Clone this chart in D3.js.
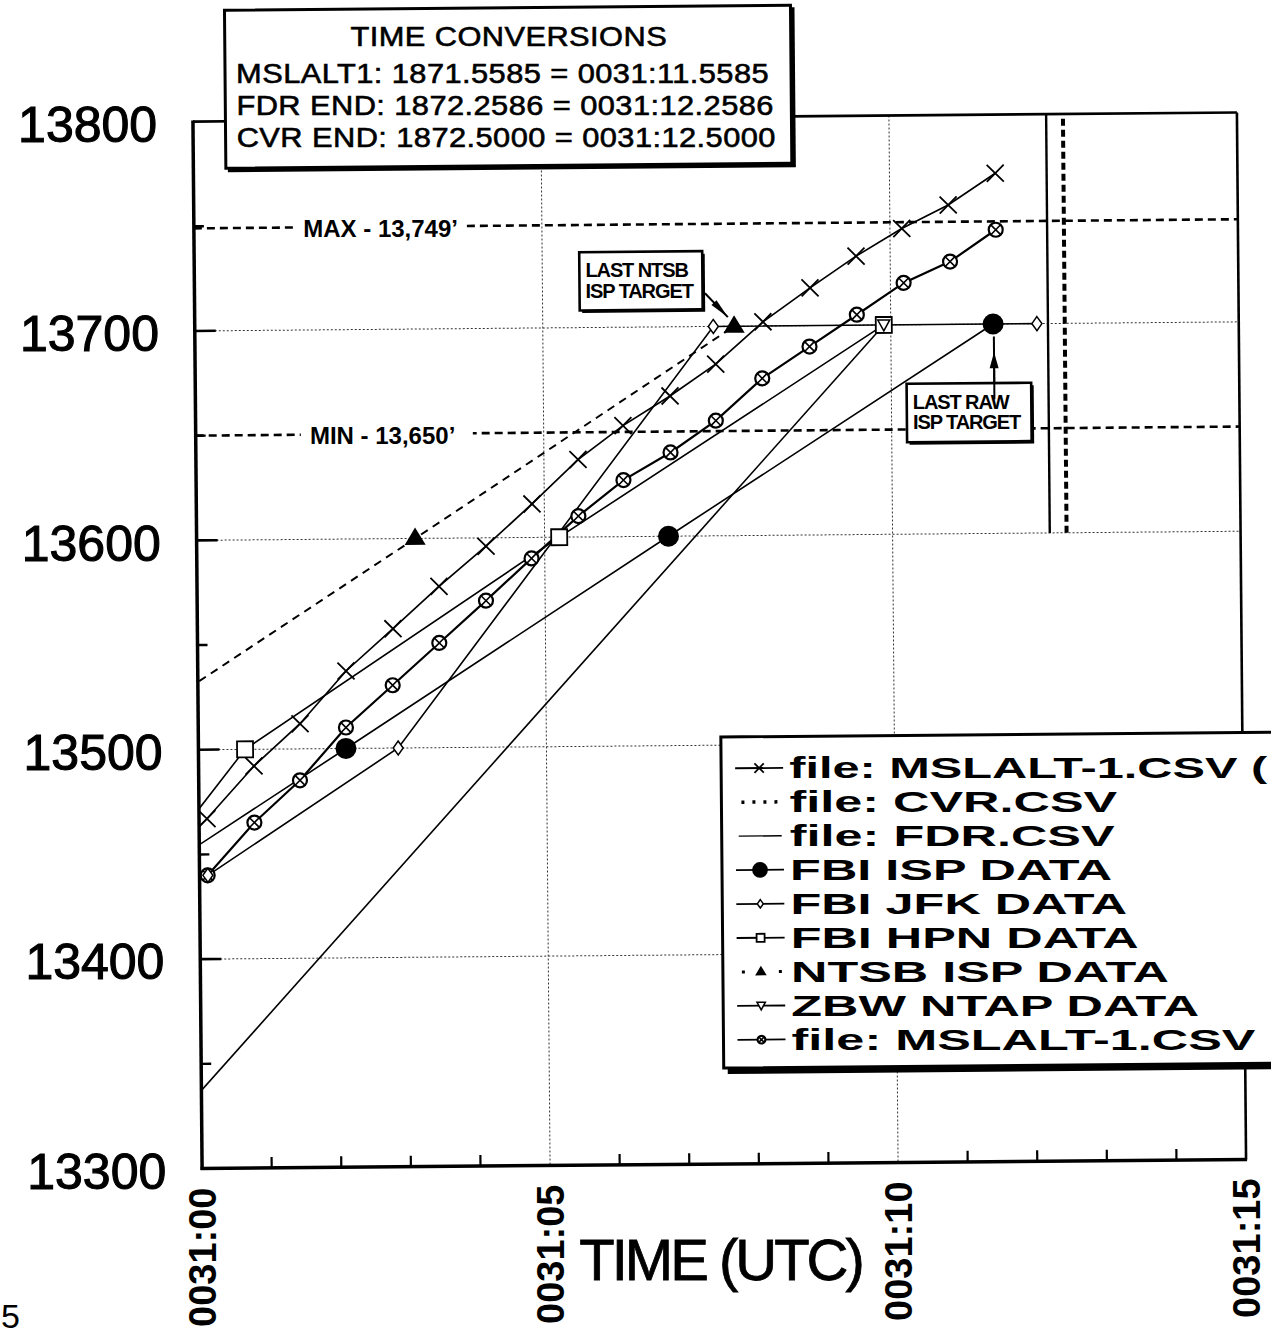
<!DOCTYPE html>
<html><head><meta charset="utf-8">
<script src="https://cdn.jsdelivr.net/npm/d3@7"></script>
<style>
html,body{margin:0;padding:0;background:#fff;}
svg{display:block;}
text{font-family:"Liberation Sans", Arial, Helvetica, sans-serif;fill:#000;}
</style></head><body>
<svg id="chart" width="1271" height="1338"></svg>
<script>
// ---------- axis data ----------
const timeTickValues = [0, 5, 10, 15];
const timeTickLabels = ["0031:00", "0031:05", "0031:10", "0031:15"];
const timeMinorTicks = [1, 2, 3, 4, 6, 7, 8, 9, 11, 12, 13, 14];
const altTickValues = [13300, 13400, 13500, 13600, 13700, 13800];
const altTickLabels = ["13300", "13400", "13500", "13600", "13700", "13800"];
const altGridValues = [13400, 13500, 13600, 13700];
const altMinorTicks = [13350, 13450, 13550, 13650, 13750];
const xAxisTitle = "TIME (UTC)";

// ---------- series data (seconds after 0031:00, feet MSL) ----------
const mslaltXTime = [-0.56, 0.114, 0.796, 1.463, 2.13, 2.81, 3.477, 4.157, 4.823, 5.49, 6.14, 6.82, 7.48, 8.164, 8.845, 9.51, 10.17, 10.84, 11.52];
const mslaltXAlt  = [13446, 13467, 13492, 13512, 13537, 13557, 13577, 13596, 13616, 13637, 13653, 13667, 13682, 13702, 13718, 13733, 13746, 13757, 13772];

const mslaltOTime = [0.117, 0.795, 1.455, 2.122, 2.799, 3.474, 4.15, 4.81, 5.488, 6.14, 6.82, 7.475, 8.147, 8.83, 9.514, 10.19, 10.86, 11.52];
const mslaltOAlt  = [13440, 13465, 13485, 13510, 13530, 13550, 13570, 13590, 13610, 13627, 13640, 13655, 13675, 13690, 13705, 13720, 13730, 13745];

const cvrTime = [12.5, 12.5];
const cvrAlt  = [13600, 13800];
const fdrTime = [12.2586, 12.2586];
const fdrAlt  = [13600, 13800];

const fbiIspTime = [-2.55, 2.12, 6.78, 11.47];
const fbiIspAlt  = [13400, 13500, 13600, 13700];

const fbiJfkTime = [0.12, 2.87, 7.45, 12.1];
const fbiJfkAlt  = [13440, 13500, 13700, 13700];

const fbiHpnTime = [-1.7, 0.67, 5.21, 9.9];
const fbiHpnAlt  = [13400, 13500, 13600, 13700];

const ntsbIspTime = [-1.5, 3.14, 7.75];
const ntsbIspAlt  = [13500, 13600, 13700];

const zbwTime = [-2.0, 9.9];
const zbwAlt  = [13264, 13700];

// ---------- reference lines & texts ----------
const limitValues = [13749, 13650];
const limitLabels = ["MAX - 13,749\u2019", "MIN - 13,650\u2019"];
const conversionTitle = "TIME CONVERSIONS";
const conversionLines = ["MSLALT1: 1871.5585 = 0031:11.5585", "FDR END: 1872.2586 = 0031:12.2586", "CVR END: 1872.5000 = 0031:12.5000"];
const ntsbNote = ["LAST NTSB", "ISP TARGET"];
const rawNote = ["LAST RAW", "ISP TARGET"];
const legendLabels = ["file: MSLALT-1.CSV (", "file: CVR.CSV", "file: FDR.CSV", "FBI ISP DATA", "FBI JFK DATA", "FBI HPN DATA", "NTSB ISP DATA", "ZBW NTAP DATA", "file: MSLALT-1.CSV"];

// ---------- setup ----------
const TILT = -0.5; // scanned page is slightly rotated
const svg = d3.select("#chart");
const root = svg.append("g").attr("transform", `rotate(${TILT},719.5,640.5)`);
const x = d3.scaleLinear().domain([0, 15]).range([197.5, 1241.5]);
const y = d3.scaleLinear().domain([13300, 13800]).range([1164, 117]);
const X0 = x(0), X1 = x(15), YB = y(13300), YT = y(13800);
const untilt = `rotate(${-TILT})`;

svg.append("defs").append("clipPath").attr("id", "plotclip")
  .append("rect").attr("x", X0).attr("y", YT).attr("width", X1 - X0).attr("height", YB - YT);

// gridlines
const grid = root.append("g").attr("stroke", "#333").attr("stroke-width", 1).attr("stroke-dasharray", "2,2");
grid.selectAll("line.h").data(altGridValues).join("line")
  .attr("x1", X0).attr("x2", X1).attr("y1", d => y(d)).attr("y2", d => y(d));
grid.selectAll("line.v").data([timeTickValues[1], timeTickValues[2]]).join("line")
  .attr("y1", YT).attr("y2", YB).attr("x1", d => x(d)).attr("x2", d => x(d));

// MAX / MIN lines
const lim = root.append("g");
limitValues.forEach((v, i) => {
  lim.append("line").attr("x1", X0).attr("x2", X1).attr("y1", y(v)).attr("y2", y(v))
    .attr("stroke", "#000").attr("stroke-width", 2.6).attr("stroke-dasharray", "8,5");
  const lx = i === 0 ? x(1.57) : x(1.64);
  lim.append("rect").attr("x", lx - 9).attr("y", y(v) - 14).attr("width", 172).attr("height", 28).attr("fill", "#fff");
  lim.append("text").attr("transform", `translate(${lx},${y(v) + 9.5}) ${untilt}`).attr("font-size", 24).attr("font-weight", "bold")
    .text(limitLabels[i]);
});

// series definitions
function pts(t, a) { return t.map((d, i) => ({ t: d, a: a[i] })); }
const series = [
  { data: pts(zbwTime, zbwAlt), marker: "triDown", w: 1.6 },
  { data: pts(fbiHpnTime, fbiHpnAlt), marker: "square", w: 1.6 },
  { data: pts(fbiJfkTime, fbiJfkAlt), marker: "diamond", w: 1.6 },
  { data: pts(fbiIspTime, fbiIspAlt), marker: "dot", w: 1.6 },
  { data: pts(ntsbIspTime, ntsbIspAlt), marker: "triUp", w: 2, dash: "8,6" },
  { data: pts(mslaltXTime, mslaltXAlt), marker: "cross", w: 1.7 },
  { data: pts(mslaltOTime, mslaltOAlt), marker: "otimes", w: 2.2 },
  { data: pts(fdrTime, fdrAlt), marker: null, w: 2.4 },
  { data: pts(cvrTime, cvrAlt), marker: null, w: 4, dash: "7,4" }
];
const line = d3.line().x(d => x(d.t)).y(d => y(d.a));
const plot = root.append("g").attr("clip-path", "url(#plotclip)");
series.forEach(s => {
  plot.append("path").attr("d", line(s.data)).attr("fill", "none").attr("stroke", "#000")
    .attr("stroke-width", s.w).attr("stroke-dasharray", s.dash || null);
});

function drawMarker(g, type, cx, cy, s) {
  const m = g.append("g").attr("transform", `translate(${cx},${cy}) scale(${s})`);
  const st = (sel, w) => sel.attr("stroke", "#000").attr("stroke-width", w).attr("vector-effect", "non-scaling-stroke");
  if (type === "cross") st(m.append("path").attr("d", "M-8.5,-8.5L8.5,8.5M-8.5,8.5L8.5,-8.5").attr("fill", "none"), 1.8);
  if (type === "otimes") {
    st(m.append("circle").attr("r", 7).attr("fill", "#fff"), 2.2);
    st(m.append("path").attr("d", "M-4.9,-4.9L4.9,4.9M-4.9,4.9L4.9,-4.9"), 1.6);
  }
  if (type === "dot") m.append("circle").attr("r", 10.5).attr("fill", "#000");
  if (type === "diamond") st(m.append("path").attr("d", "M0,-7L5,0L0,7L-5,0Z").attr("fill", "#fff"), 1.5);
  if (type === "square") st(m.append("rect").attr("x", -8).attr("y", -8).attr("width", 16).attr("height", 16).attr("fill", "#fff"), 1.8);
  if (type === "triUp") m.append("path").attr("d", "M0,-11L10.5,6.5L-10.5,6.5Z").attr("fill", "#000");
  if (type === "triDown") st(m.append("path").attr("d", "M-6,-5L6,-5L0,6Z").attr("fill", "#fff"), 1.5);
}
const markerOrder = [6, 5, 2, 1, 0, 3, 4];
markerOrder.forEach(i => {
  const s = series[i];
  s.data.forEach(d => drawMarker(plot, s.marker, x(d.t), y(d.a), 1));
});

// frame and ticks
const frame = root.append("g").attr("stroke", "#000").attr("fill", "none");
frame.append("line").attr("x1", X0).attr("x2", X0).attr("y1", YT - 1).attr("y2", YB + 1.5).attr("stroke-width", 3.5);
frame.append("line").attr("x1", X0 - 1.5).attr("x2", X1 + 1).attr("y1", YB).attr("y2", YB).attr("stroke-width", 3.5);
frame.append("line").attr("x1", X1).attr("x2", X1).attr("y1", YT).attr("y2", YB).attr("stroke-width", 2.6);
frame.append("line").attr("x1", X0).attr("x2", X1).attr("y1", YT).attr("y2", YT).attr("stroke-width", 2.6);
frame.selectAll("line.ymaj").data(altGridValues).join("line")
  .attr("x1", X0).attr("x2", X0 + 21).attr("y1", d => y(d)).attr("y2", d => y(d)).attr("stroke-width", 2.6);
frame.selectAll("line.ymin").data(altMinorTicks).join("line")
  .attr("x1", X0).attr("x2", X0 + 10).attr("y1", d => y(d)).attr("y2", d => y(d)).attr("stroke-width", 2.4);
frame.selectAll("line.xmin").data(timeMinorTicks).join("line")
  .attr("x1", d => x(d)).attr("x2", d => x(d)).attr("y1", YB).attr("y2", YB - 11).attr("stroke-width", 2.2);

// axis labels
const yl = root.append("g");
yl.selectAll("text").data(altTickValues).join("text")
  .attr("transform", d => `translate(${X0 - 36},${y(d) + 20}) ${untilt}`).attr("text-anchor", "end")
  .attr("font-size", 50).attr("stroke", "#000").attr("stroke-width", 1.1)
  .text((d, i) => altTickLabels[i]);
const xl = root.append("g");
xl.selectAll("text").data(timeTickValues).join("text")
  .attr("transform", d => `translate(${x(d)},${YB + 19}) rotate(${-90 - TILT})`)
  .attr("text-anchor", "end").attr("dy", "0.36em")
  .attr("font-size", 38).attr("font-weight", "bold")
  .text((d, i) => timeTickLabels[i]);
root.append("text").attr("transform", `translate(715,1280) ${untilt}`).attr("text-anchor", "middle")
  .attr("font-size", 58).attr("letter-spacing", -3).attr("stroke", "#000").attr("stroke-width", 0.8).text(xAxisTitle);
svg.append("text").attr("x", 1).attr("y", 1328).attr("font-size", 34).text("5");

// time conversions box
const tb = root.append("g");
tb.append("rect").attr("x", 232).attr("y", 8).attr("width", 568).attr("height", 160).attr("fill", "#000");
tb.append("rect").attr("x", 230).attr("y", 6).attr("width", 566).attr("height", 158)
  .attr("fill", "#fff").attr("stroke", "#000").attr("stroke-width", 3);
tb.append("text").attr("transform", `translate(514,44) ${untilt} scale(1.1,1)`).attr("text-anchor", "middle").attr("font-size", 28)
  .attr("letter-spacing", 0.4).attr("stroke", "#000").attr("stroke-width", 0.6).text(conversionTitle);
tb.selectAll("text.l").data(conversionLines).join("text")
  .attr("transform", (d, i) => `translate(241,${79 + i * 32}) ${untilt} scale(1.1,1)`).attr("font-size", 28)
  .attr("letter-spacing", 0.4).attr("stroke", "#000").attr("stroke-width", 0.6).text(d => d);

// annotation boxes
function noteBox(t0, t1, a0, a1, lines) {
  const g = root.append("g");
  const bx = x(t0), by = y(a0), bw = x(t1) - x(t0), bh = y(a1) - y(a0);
  g.append("rect").attr("x", bx + 2.5).attr("y", by + 2.5).attr("width", bw).attr("height", bh).attr("fill", "#000");
  g.append("rect").attr("x", bx).attr("y", by).attr("width", bw).attr("height", bh)
    .attr("fill", "#fff").attr("stroke", "#000").attr("stroke-width", 2.6);
  lines.forEach((s, i) => g.append("text").attr("transform", `translate(${bx + 6},${by + 25 + i * 20.5}) ${untilt}`)
    .attr("font-size", 20).attr("font-weight", "bold").attr("letter-spacing", -1.1).text(s));
  return g;
}
noteBox(5.533, 7.30, 13736, 13708.2, ntsbNote);
noteBox(10.22, 12.01, 13671.8, 13643.9, rawNote);

function arrow(xa, ya, xb, yb, len, wid) {
  const ang = Math.atan2(yb - ya, xb - xa);
  root.append("line").attr("x1", xa).attr("y1", ya).attr("x2", xb).attr("y2", yb).attr("stroke", "#000").attr("stroke-width", 2);
  const bx = xb - len * Math.cos(ang), by = yb - len * Math.sin(ang);
  const px = -Math.sin(ang) * wid / 2, py = Math.cos(ang) * wid / 2;
  root.append("path").attr("d", `M${xb},${yb}L${bx + px},${by + py}L${bx - px},${by - py}Z`).attr("fill", "#000");
}
arrow(x(7.335), y(13715.9), x(7.66), y(13704.4), 20, 7);
root.append("line").attr("x1", x(11.48)).attr("x2", x(11.48)).attr("y1", y(13671.8)).attr("y2", y(13694))
  .attr("stroke", "#000").attr("stroke-width", 2);
arrow(x(11.48), y(13664), x(11.48), y(13686.5), 16, 9);

// legend
const lg = root.append("g");
const LX = 720, LT = 737, LB = 1068;
lg.append("rect").attr("x", LX + 4).attr("y", LT + 6).attr("width", 640).attr("height", LB - LT).attr("fill", "#000");
lg.append("rect").attr("x", LX).attr("y", LT).attr("width", 640).attr("height", LB - LT)
  .attr("fill", "#fff").attr("stroke", "#000").attr("stroke-width", 3);
const legendMarkers = ["cross", null, null, "dot", "diamond", "square", "triUp", "triDown", "otimes"];
const legendScale = [0.55, 1, 1, 0.75, 0.6, 0.5, 0.55, 0.7, 0.55];
const legendTextX = 788, legendTextMax = 1266 - 788;
legendLabels.forEach((lab, i) => {
  const cy = 768.4 + i * 33.95;
  const ls = lg.append("line").attr("x1", 734).attr("x2", 782).attr("y1", cy).attr("y2", cy)
    .attr("stroke", "#000").attr("stroke-width", 1.8);
  if (i === 1) ls.attr("x1", 740).attr("x2", 781).attr("stroke-width", 3.5).attr("stroke-dasharray", "3,8");
  if (i === 2) ls.attr("x1", 737).attr("x2", 780).attr("stroke-width", 1.4);
  if (i === 6) ls.attr("x1", 739).attr("x2", 779).attr("stroke-width", 3).attr("stroke-dasharray", "3,34");
  if (legendMarkers[i]) drawMarker(lg, legendMarkers[i], 758, cy, legendScale[i]);
  const t = lg.append("text").attr("font-size", 30).attr("font-weight", "bold").text(lab);
  const len = t.node().getComputedTextLength();
  const sx = Math.min(1.68, legendTextMax / len);
  t.attr("transform", `translate(${legendTextX},${cy + 10.5}) ${untilt} scale(${sx},1)`);
});
</script>
</body></html>
